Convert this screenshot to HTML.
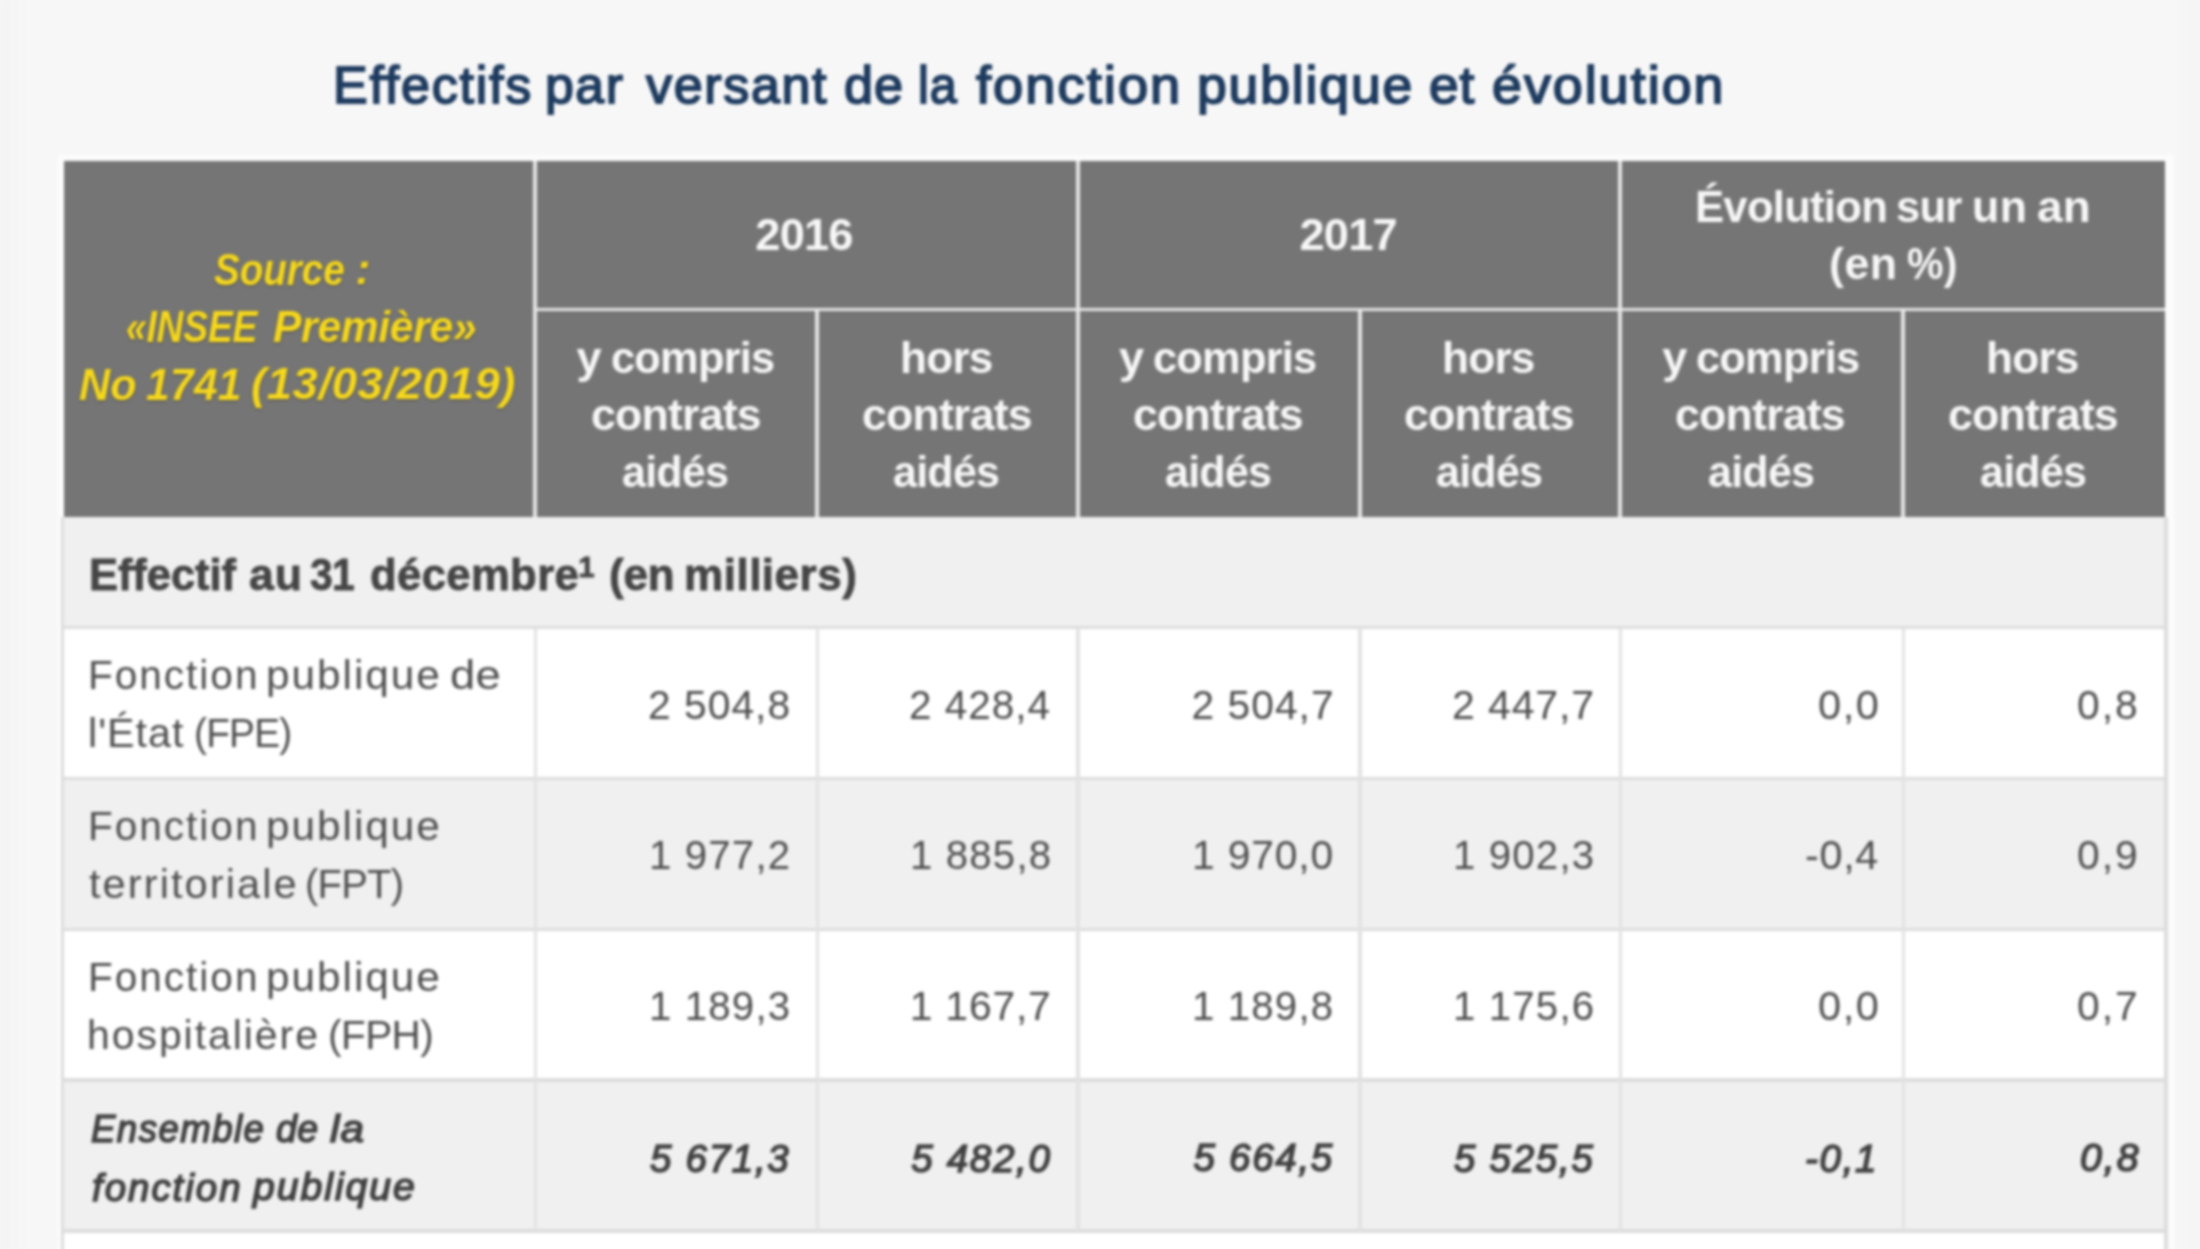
<!DOCTYPE html>
<html lang="fr">
<head>
<meta charset="utf-8">
<title>Effectifs par versant de la fonction publique et évolution</title>
<style>

html,body{margin:0;padding:0;}
html{background:#f7f7f7;overflow:hidden;}
body{width:2200px;height:1249px;position:relative;overflow:hidden;background:#f7f7f7;font-family:"Liberation Sans", Arial, sans-serif;}
#pg{position:absolute;left:-40px;top:-40px;width:2280px;height:1329px;background:#f7f7f7;overflow:hidden;filter:blur(1.4px);}
#in{position:absolute;left:40px;top:40px;width:2200px;height:1249px;background:linear-gradient(90deg,#f3f3f3 0,#f7f7f7 32px,#f7f7f7 2172px,#f4f4f4 2200px);}
.r{position:absolute;}
.g{display:block;position:static;margin:0;padding:0;height:0;font:inherit;}
.t{position:absolute;white-space:pre;line-height:1;margin:0;padding:0;transform-origin:0 0;}
.ttl{color:#1e3b5f;font-weight:400;-webkit-text-stroke:1.9px #1e3b5f;}
.src{color:#f6d81c;font-weight:700;font-style:italic;text-shadow:0 1px 3px rgba(0,0,0,.35);}
.hd{color:#f7f7f7;font-weight:700;}
.sec{color:#454545;font-weight:700;-webkit-text-stroke:0.8px #454545;}
.bd{color:#4e4e4e;font-weight:400;}
.tot{color:#414141;font-weight:400;font-style:italic;-webkit-text-stroke:1.6px #414141;}

</style>
</head>
<body>
<div id="pg"><div id="in">
<div class="r" style="left:57.9px;top:155.2px;width:2115.8px;height:1099.3px;background:#fcfcfc"></div>
<div class="r" style="left:64.4px;top:160.7px;width:2100.8px;height:355.9px;background:#757575"></div>
<div class="r" style="left:64.4px;top:516.6px;width:2100.8px;height:110.9px;background:#f0f0f0"></div>
<div class="r" style="left:64.4px;top:627.5px;width:2100.8px;height:151.1px;background:#ffffff"></div>
<div class="r" style="left:64.4px;top:778.6px;width:2100.8px;height:151px;background:#f0f0f0"></div>
<div class="r" style="left:64.4px;top:929.6px;width:2100.8px;height:150.7px;background:#ffffff"></div>
<div class="r" style="left:64.4px;top:1080.3px;width:2100.8px;height:151px;background:#f0f0f0"></div>
<div class="r" style="left:64.4px;top:1231.3px;width:2100.8px;height:28.7px;background:#ffffff"></div>
<div class="r" style="left:533.46px;top:160.7px;width:3.67px;height:355.9px;background:#e6e6e6"></div>
<div class="r" style="left:1075.96px;top:160.7px;width:3.67px;height:355.9px;background:#e6e6e6"></div>
<div class="r" style="left:1618.37px;top:160.7px;width:3.67px;height:355.9px;background:#e6e6e6"></div>
<div class="r" style="left:815.46px;top:309.6px;width:3.67px;height:207px;background:#e6e6e6"></div>
<div class="r" style="left:1358.16px;top:309.6px;width:3.67px;height:207px;background:#e6e6e6"></div>
<div class="r" style="left:1901.37px;top:309.6px;width:3.67px;height:207px;background:#e6e6e6"></div>
<div class="r" style="left:533.46px;top:307.77px;width:1631.73px;height:3.67px;background:#e6e6e6"></div>
<div class="r" style="left:60.73px;top:625.66px;width:2106.3px;height:3.67px;background:#dcdcdc"></div>
<div class="r" style="left:60.73px;top:776.76px;width:2106.3px;height:3.67px;background:#dcdcdc"></div>
<div class="r" style="left:60.73px;top:927.76px;width:2106.3px;height:3.67px;background:#dcdcdc"></div>
<div class="r" style="left:60.73px;top:1078.46px;width:2106.3px;height:3.67px;background:#dcdcdc"></div>
<div class="r" style="left:60.73px;top:1229.46px;width:2106.3px;height:3.67px;background:#dcdcdc"></div>
<div class="r" style="left:533.76px;top:627.5px;width:3.67px;height:603.8px;background:#e2e2e2"></div>
<div class="r" style="left:815.76px;top:627.5px;width:3.67px;height:603.8px;background:#e2e2e2"></div>
<div class="r" style="left:1076.26px;top:627.5px;width:3.67px;height:603.8px;background:#e2e2e2"></div>
<div class="r" style="left:1358.46px;top:627.5px;width:3.67px;height:603.8px;background:#e2e2e2"></div>
<div class="r" style="left:1618.66px;top:627.5px;width:3.67px;height:603.8px;background:#e2e2e2"></div>
<div class="r" style="left:1901.66px;top:627.5px;width:3.67px;height:603.8px;background:#e2e2e2"></div>
<div class="r" style="left:60.73px;top:516.6px;width:3.67px;height:743.4px;background:#dcdcdc"></div>
<div class="r" style="left:2163.96px;top:516.6px;width:3.67px;height:743.4px;background:#dcdcdc"></div>
<h1 class="g"><span class="t ttl" id="t0" style="left:332.5px;top:58.68px;font-size:52px;letter-spacing:1.82px;transform:scaleX(0.9980);">Effectifs</span> <span class="t ttl" id="t1" style="left:545.2px;top:58.68px;font-size:52px;letter-spacing:1.6px;transform:scaleX(0.9952);">par</span> <span class="t ttl" id="t2" style="left:646px;top:58.68px;font-size:52px;letter-spacing:1.67px;">versant</span> <span class="t ttl" id="t3" style="left:844px;top:58.68px;font-size:52px;letter-spacing:1px;transform:scaleX(1.0039);">de</span> <span class="t ttl" id="t4" style="left:918px;top:58.68px;font-size:52px;letter-spacing:1px;transform:scaleX(0.9348);">la</span> <span class="t ttl" id="t5" style="left:976.3px;top:58.68px;font-size:52px;letter-spacing:1.97px;transform:scaleX(1.0425);">fonction</span> <span class="t ttl" id="t6" style="left:1196.5px;top:58.68px;font-size:52px;letter-spacing:1.84px;transform:scaleX(1.0271);">publique</span> <span class="t ttl" id="t7" style="left:1428.5px;top:58.68px;font-size:52px;letter-spacing:1px;transform:scaleX(1.0227);">et</span> <span class="t ttl" id="t8" style="left:1492px;top:58.68px;font-size:52px;letter-spacing:2px;transform:scaleX(1.0326);">évolution</span></h1>
<div class="g" role="table">
<div class="g" role="row">
<div class="g" role="columnheader"><span class="t src" id="t9" style="left:214px;top:247.72px;font-size:44.5px;letter-spacing:-0.06px;transform:scaleX(0.8681);">Source</span> <span class="t src" id="t10" style="left:355.5px;top:247.34px;font-size:44.5px;">:</span> <span class="t src" id="t11" style="left:126.1px;top:305.06px;font-size:44.5px;letter-spacing:-0.3px;transform:scaleX(0.8382);">«INSEE</span> <span class="t src" id="t12" style="left:272.7px;top:305.07px;font-size:44.5px;letter-spacing:-0.3px;transform:scaleX(0.9564);">Première»</span> <span class="t src" id="t13" style="left:79.3px;top:363.47px;font-size:44.5px;letter-spacing:0.1px;transform:scaleX(0.9688);">No</span> <span class="t src" id="t14" style="left:145.5px;top:363.22px;font-size:44.5px;letter-spacing:0.3px;transform:scaleX(0.9561);">1741</span> <span class="t src" id="t15" style="left:251.3px;top:362.36px;font-size:44.5px;letter-spacing:0.6px;transform:scaleX(1.0210);">(13/03/2019)</span></div>
<div class="g" role="columnheader"><span class="t hd" id="t16" style="left:755.3px;top:212.45px;font-size:45.2px;letter-spacing:-0.8px;">2016</span></div>
<div class="g" role="columnheader"><span class="t hd" id="t17" style="left:1299.5px;top:212.45px;font-size:45.2px;letter-spacing:-0.8px;">2017</span></div>
<div class="g" role="columnheader"><span class="t hd" id="t18" style="left:1695px;top:183.74px;font-size:45.2px;letter-spacing:-0.8px;transform:scaleX(0.9668);">Évolution</span> <span class="t hd" id="t19" style="left:1895.9px;top:183.74px;font-size:45.2px;letter-spacing:-0.8px;transform:scaleX(0.9638);">sur</span> <span class="t hd" id="t20" style="left:1972.2px;top:183.76px;font-size:45.2px;letter-spacing:0.4px;transform:scaleX(0.9886);">un</span> <span class="t hd" id="t21" style="left:2037px;top:183.75px;font-size:45.2px;letter-spacing:0.2px;transform:scaleX(1.0169);">an</span> <span class="t hd" id="t22" style="left:1828.7px;top:240.96px;font-size:45.2px;letter-spacing:0.6px;transform:scaleX(0.9878);">(en</span> <span class="t hd" id="t23" style="left:1906.7px;top:240.94px;font-size:45.2px;letter-spacing:0.3px;transform:scaleX(0.9103);">%)</span></div>
</div>
<div class="g" role="row">
<div class="g" role="columnheader"><span class="t hd" id="t24" style="left:576.6px;top:334.73px;font-size:45.2px;">y</span> <span class="t hd" id="t25" style="left:610.5px;top:334.72px;font-size:45.2px;letter-spacing:-0.8px;transform:scaleX(0.9603);">compris</span> <span class="t hd" id="t26" style="left:590.7px;top:391.96px;font-size:45.2px;letter-spacing:-0.8px;transform:scaleX(0.9882);">contrats</span> <span class="t hd" id="t27" style="left:622.05px;top:449.42px;font-size:45.2px;letter-spacing:-0.8px;transform:scaleX(0.9524);">aidés</span></div>
<div class="g" role="columnheader"><span class="t hd" id="t28" style="left:900.45px;top:334.77px;font-size:45.2px;letter-spacing:-0.8px;transform:scaleX(0.9779);">hors</span> <span class="t hd" id="t29" style="left:861.95px;top:391.96px;font-size:45.2px;letter-spacing:-0.8px;transform:scaleX(0.9882);">contrats</span> <span class="t hd" id="t30" style="left:893.3px;top:449.42px;font-size:45.2px;letter-spacing:-0.8px;transform:scaleX(0.9524);">aidés</span></div>
<div class="g" role="columnheader"><span class="t hd" id="t31" style="left:1119px;top:334.76px;font-size:45.2px;">y</span> <span class="t hd" id="t32" style="left:1152.9px;top:334.73px;font-size:45.2px;letter-spacing:-0.8px;transform:scaleX(0.9603);">compris</span> <span class="t hd" id="t33" style="left:1133.1px;top:391.96px;font-size:45.2px;letter-spacing:-0.8px;transform:scaleX(0.9882);">contrats</span> <span class="t hd" id="t34" style="left:1165.45px;top:449.43px;font-size:45.2px;letter-spacing:-0.8px;transform:scaleX(0.9524);">aidés</span></div>
<div class="g" role="columnheader"><span class="t hd" id="t35" style="left:1442.4px;top:334.77px;font-size:45.2px;letter-spacing:-0.8px;transform:scaleX(0.9781);">hors</span> <span class="t hd" id="t36" style="left:1403.9px;top:391.96px;font-size:45.2px;letter-spacing:-0.8px;transform:scaleX(0.9882);">contrats</span> <span class="t hd" id="t37" style="left:1436.25px;top:449.42px;font-size:45.2px;letter-spacing:-0.8px;transform:scaleX(0.9524);">aidés</span></div>
<div class="g" role="columnheader"><span class="t hd" id="t38" style="left:1662.2px;top:334.74px;font-size:45.2px;">y</span> <span class="t hd" id="t39" style="left:1696.1px;top:334.72px;font-size:45.2px;letter-spacing:-0.8px;transform:scaleX(0.9605);">compris</span> <span class="t hd" id="t40" style="left:1675.3px;top:391.96px;font-size:45.2px;letter-spacing:-0.8px;transform:scaleX(0.9882);">contrats</span> <span class="t hd" id="t41" style="left:1707.65px;top:449.42px;font-size:45.2px;letter-spacing:-0.8px;transform:scaleX(0.9521);">aidés</span></div>
<div class="g" role="columnheader"><span class="t hd" id="t42" style="left:1986.3px;top:334.76px;font-size:45.2px;letter-spacing:-0.8px;transform:scaleX(0.9779);">hors</span> <span class="t hd" id="t43" style="left:1947.8px;top:391.96px;font-size:45.2px;letter-spacing:-0.8px;transform:scaleX(0.9882);">contrats</span> <span class="t hd" id="t44" style="left:1980.15px;top:449.42px;font-size:45.2px;letter-spacing:-0.8px;transform:scaleX(0.9521);">aidés</span></div>
</div>
<div class="g" role="row">
<div class="g" role="cell"><span class="t sec" id="t45" style="left:88.9px;top:553.57px;font-size:43.6px;letter-spacing:-0.06px;transform:scaleX(0.9973);">Effectif</span> <span class="t sec" id="t46" style="left:248.7px;top:553.56px;font-size:43.6px;letter-spacing:0.9px;transform:scaleX(1.0252);">au</span> <span class="t sec" id="t47" style="left:310.4px;top:553.56px;font-size:43.6px;letter-spacing:-0.8px;transform:scaleX(0.9396);">31</span> <span class="t sec" id="t48" style="left:369.8px;top:553.56px;font-size:43.6px;letter-spacing:0.34px;transform:scaleX(1.0020);">décembre</span> <sup class="t sec" id="t49" style="left:578.3px;top:552.08px;font-size:29.5px;">1</sup> <span class="t sec" id="t50" style="left:608.6px;top:553.56px;font-size:43.6px;letter-spacing:-0.2px;transform:scaleX(1.0103);">(en</span> <span class="t sec" id="t51" style="left:684.2px;top:553.59px;font-size:43.6px;letter-spacing:0.48px;transform:scaleX(1.0109);">milliers)</span></div>
</div>
<div class="g" role="row">
<div class="g" role="rowheader"><span class="t bd" id="t52" style="left:87.5px;top:655.16px;font-size:40.8px;letter-spacing:2px;transform:scaleX(0.9939);">Fonction</span> <span class="t bd" id="t53" style="left:266.1px;top:655.16px;font-size:40.8px;letter-spacing:1.86px;transform:scaleX(1.0391);">publique</span> <span class="t bd" id="t54" style="left:450.1px;top:655.16px;font-size:40.8px;letter-spacing:0.2px;transform:scaleX(1.1127);">de</span> <span class="t bd" id="t55" style="left:87.5px;top:712.56px;font-size:40.8px;letter-spacing:1px;transform:scaleX(1.0110);">l'État</span> <span class="t bd" id="t56" style="left:193.6px;top:712.56px;font-size:40.8px;letter-spacing:-0.8px;transform:scaleX(0.9513);">(FPE)</span></div>
<div class="g" role="cell"><span class="t bd" id="t57" style="left:648px;top:684.96px;font-size:40.8px;letter-spacing:1px;">2 504,8</span></div>
<div class="g" role="cell"><span class="t bd" id="t58" style="left:909.2px;top:684.96px;font-size:40.8px;letter-spacing:1px;transform:scaleX(0.9928);">2 428,4</span></div>
<div class="g" role="cell"><span class="t bd" id="t59" style="left:1191.5px;top:684.96px;font-size:40.8px;letter-spacing:1px;">2 504,7</span></div>
<div class="g" role="cell"><span class="t bd" id="t60" style="left:1452.3px;top:684.96px;font-size:40.8px;letter-spacing:0.83px;transform:scaleX(1.0073);">2 447,7</span></div>
<div class="g" role="cell"><span class="t bd" id="t61" style="left:1817.7px;top:684.96px;font-size:40.8px;letter-spacing:1.5px;transform:scaleX(1.0182);">0,0</span></div>
<div class="g" role="cell"><span class="t bd" id="t62" style="left:2077px;top:684.96px;font-size:40.8px;letter-spacing:2px;">0,8</span></div>
</div>
<div class="g" role="row">
<div class="g" role="rowheader"><span class="t bd" id="t63" style="left:87.5px;top:806.26px;font-size:40.8px;letter-spacing:2px;transform:scaleX(0.9939);">Fonction</span> <span class="t bd" id="t64" style="left:266.1px;top:806.26px;font-size:40.8px;letter-spacing:1.86px;transform:scaleX(1.0391);">publique</span> <span class="t bd" id="t65" style="left:88.8px;top:863.66px;font-size:40.8px;letter-spacing:2px;transform:scaleX(1.0209);">territoriale</span> <span class="t bd" id="t66" style="left:304.5px;top:863.66px;font-size:40.8px;letter-spacing:-0.8px;transform:scaleX(0.9793);">(FPT)</span></div>
<div class="g" role="cell"><span class="t bd" id="t67" style="left:648.5px;top:835.06px;font-size:40.8px;letter-spacing:1.17px;transform:scaleX(0.9855);">1 977,2</span></div>
<div class="g" role="cell"><span class="t bd" id="t68" style="left:909.7px;top:835.06px;font-size:40.8px;letter-spacing:1.17px;transform:scaleX(0.9855);">1 885,8</span></div>
<div class="g" role="cell"><span class="t bd" id="t69" style="left:1192px;top:835.06px;font-size:40.8px;letter-spacing:0.83px;">1 970,0</span></div>
<div class="g" role="cell"><span class="t bd" id="t70" style="left:1452.8px;top:835.06px;font-size:40.8px;letter-spacing:1.17px;transform:scaleX(0.9855);">1 902,3</span></div>
<div class="g" role="cell"><span class="t bd" id="t71" style="left:1804.7px;top:835.06px;font-size:40.8px;letter-spacing:0.67px;transform:scaleX(1.0149);">-0,4</span></div>
<div class="g" role="cell"><span class="t bd" id="t72" style="left:2077px;top:835.06px;font-size:40.8px;letter-spacing:2px;">0,9</span></div>
</div>
<div class="g" role="row">
<div class="g" role="rowheader"><span class="t bd" id="t73" style="left:87.5px;top:957.36px;font-size:40.8px;letter-spacing:2px;transform:scaleX(0.9939);">Fonction</span> <span class="t bd" id="t74" style="left:266.1px;top:957.36px;font-size:40.8px;letter-spacing:1.86px;transform:scaleX(1.0391);">publique</span> <span class="t bd" id="t75" style="left:87.4px;top:1014.76px;font-size:40.8px;letter-spacing:1.95px;transform:scaleX(1.0036);">hospitalière</span> <span class="t bd" id="t76" style="left:328.2px;top:1014.76px;font-size:40.8px;letter-spacing:-0.58px;transform:scaleX(0.9941);">(FPH)</span></div>
<div class="g" role="cell"><span class="t bd" id="t77" style="left:648.5px;top:986.16px;font-size:40.8px;letter-spacing:1.17px;transform:scaleX(0.9855);">1 189,3</span></div>
<div class="g" role="cell"><span class="t bd" id="t78" style="left:909.7px;top:986.16px;font-size:40.8px;letter-spacing:0.83px;">1 167,7</span></div>
<div class="g" role="cell"><span class="t bd" id="t79" style="left:1192px;top:986.16px;font-size:40.8px;letter-spacing:1.17px;transform:scaleX(0.9855);">1 189,8</span></div>
<div class="g" role="cell"><span class="t bd" id="t80" style="left:1452.8px;top:986.16px;font-size:40.8px;letter-spacing:1.17px;transform:scaleX(0.9855);">1 175,6</span></div>
<div class="g" role="cell"><span class="t bd" id="t81" style="left:1817.7px;top:986.16px;font-size:40.8px;letter-spacing:1.5px;transform:scaleX(1.0182);">0,0</span></div>
<div class="g" role="cell"><span class="t bd" id="t82" style="left:2077px;top:986.16px;font-size:40.8px;letter-spacing:2px;">0,7</span></div>
</div>
<div class="g" role="row">
<div class="g" role="rowheader"><span class="t tot" id="t83" style="left:91.2px;top:1109.78px;font-size:38.6px;letter-spacing:1.54px;transform:scaleX(0.9487);">Ensemble</span> <span class="t tot" id="t84" style="left:276.2px;top:1109.8px;font-size:38.6px;letter-spacing:0.5px;transform:scaleX(0.9697);">de</span> <span class="t tot" id="t85" style="left:330px;top:1110.23px;font-size:38.6px;letter-spacing:1px;transform:scaleX(1.0956);">la</span> <span class="t tot" id="t86" style="left:91.5px;top:1168.62px;font-size:38.6px;letter-spacing:2px;transform:scaleX(0.9963);">fonction</span> <span class="t tot" id="t87" style="left:253.1px;top:1167.99px;font-size:38.6px;letter-spacing:1.94px;transform:scaleX(1.0149);">publique</span></div>
<div class="g" role="cell"><span class="t tot" id="t88" style="left:650px;top:1140.05px;font-size:38.6px;letter-spacing:1.67px;">5 671,3</span></div>
<div class="g" role="cell"><span class="t tot" id="t89" style="left:911.2px;top:1140.05px;font-size:38.6px;letter-spacing:1.67px;">5 482,0</span></div>
<div class="g" role="cell"><span class="t tot" id="t90" style="left:1193.5px;top:1139.35px;font-size:38.6px;letter-spacing:1.67px;">5 664,5</span></div>
<div class="g" role="cell"><span class="t tot" id="t91" style="left:1454.3px;top:1139.94px;font-size:38.6px;letter-spacing:1.83px;transform:scaleX(0.9929);">5 525,5</span></div>
<div class="g" role="cell"><span class="t tot" id="t92" style="left:1805px;top:1139.54px;font-size:38.6px;letter-spacing:1.67px;">-0,1</span></div>
<div class="g" role="cell"><span class="t tot" id="t93" style="left:2080px;top:1139.08px;font-size:38.6px;letter-spacing:2px;transform:scaleX(1.0175);">0,8</span></div>
</div>
</div>
</div></div>
</body>
</html>
